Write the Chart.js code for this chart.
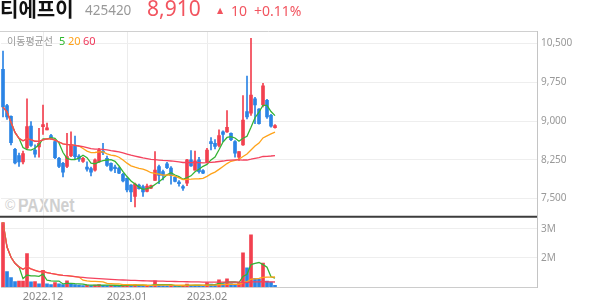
<!DOCTYPE html>
<html>
<head>
<meta charset="utf-8">
<script src="https://cdn.jsdelivr.net/npm/chart.js@4.4.0/dist/chart.umd.min.js"></script>
<style>
  html, body { margin: 0; padding: 0; background: #fff; }
  #wrap { position: relative; width: 594px; height: 304px; overflow: hidden; }
  #chart { position: absolute; left: 0; top: 0; z-index: 1; }
  .t { position: absolute; white-space: nowrap; line-height: 1; z-index: 2; }
  .num { font-family: "Noto Sans", sans-serif; }
  .kr { font-family: "Noto Sans CJK KR", sans-serif; }
  .wm { z-index: 0; color: #d0d0d0; font-family: "Liberation Sans", sans-serif; font-weight: bold; }
</style>
</head>
<body>
<div id="wrap">
  <div class="t wm" style="left:5px;top:198px;font-size:14px;font-weight:normal">©</div>
  <div class="t wm" style="left:18px;top:194px;font-size:21px;transform:scaleX(0.75);transform-origin:left top">PAXNet</div>
  <canvas id="chart" width="594" height="304"></canvas>

  <div class="t kr" style="left:0;top:-1px;font-size:20px;font-weight:bold;color:#111">티에프이</div>
  <div class="t num" style="left:85px;top:4px;font-size:13.5px;color:#999">425420</div>
  <div class="t num" style="left:147px;top:-2px;font-size:21px;color:#f2545f">8,910</div>
  <div class="t" style="left:217px;top:7px;font-size:8px;color:#f2545f;font-family:'DejaVu Sans'">▲</div>
  <div class="t num" style="left:231px;top:4px;font-size:14px;color:#f2545f">10</div>
  <div class="t num" style="left:254px;top:4px;font-size:14px;color:#f2545f">+0.11%</div>

  <div class="t kr" style="left:7px;top:35.5px;font-size:10px;color:#999">이동평균선</div>
  <div class="t num" style="left:59px;top:35px;font-size:11px;color:#2eb82e">5</div>
  <div class="t num" style="left:68px;top:35px;font-size:11px;color:#ffa21a">20</div>
  <div class="t num" style="left:83px;top:35px;font-size:11px;color:#f0385a">60</div>
</div>

<script>
const dates = [
  "2022-11-17", "2022-11-18", "2022-11-21", "2022-11-22", "2022-11-23", "2022-11-24", "2022-11-25",
  "2022-11-28", "2022-11-29", "2022-11-30",
  "2022-12-01", "2022-12-02", "2022-12-05", "2022-12-06", "2022-12-07", "2022-12-08", "2022-12-09",
  "2022-12-12", "2022-12-13", "2022-12-14", "2022-12-15", "2022-12-16", "2022-12-19", "2022-12-20",
  "2022-12-21", "2022-12-22", "2022-12-23", "2022-12-26", "2022-12-27", "2022-12-28", "2022-12-29",
  "2023-01-02", "2023-01-03", "2023-01-04", "2023-01-05", "2023-01-06", "2023-01-09", "2023-01-10",
  "2023-01-11", "2023-01-12", "2023-01-13", "2023-01-16", "2023-01-17", "2023-01-18", "2023-01-19",
  "2023-01-20", "2023-01-25", "2023-01-26", "2023-01-27", "2023-01-30", "2023-01-31",
  "2023-02-01", "2023-02-02", "2023-02-03", "2023-02-06", "2023-02-07", "2023-02-08", "2023-02-09",
  "2023-02-10", "2023-02-13", "2023-02-14", "2023-02-15", "2023-02-16", "2023-02-17", "2023-02-20",
  "2023-02-21", "2023-02-22", "2023-02-23", "2023-02-24"
];

const open = [
  10000, 9300, 9090, 8450, 8330, 8210, 8480, 8900, 8440, 8500,
  8890, 8830, 8720, 8600, 8280, 8180, 8120, 8330, 8530, 8320,
  8220, 8110, 8080, 8050, 8210, 8420, 8280, 8180, 8110, 8090,
  7970, 7890, 7760, 7540, 7760, 7730, 7640, 7700, 7850, 8120,
  8020, 8170, 8090, 7910, 7820, 7730, 7800, 8250, 8050, 8250,
  8040, 8200, 8600, 8570, 8530, 8790, 8790, 8760, 8600, 8300,
  8540, 9180, 9150, 9430, 9230, 9310, 9400, 9110, 8870
];
const high = [
  10350, 9320, 9100, 8470, 8380, 8420, 9430, 8990, 8540, 8860,
  9310, 8960, 8740, 8630, 8300, 8200, 8760, 8790, 8710, 8350,
  8300, 8210, 8110, 8270, 8470, 8570, 8320, 8190, 8150, 8110,
  7990, 7900, 7770, 7800, 7780, 7760, 7780, 7760, 8410, 8150,
  8050, 8200, 8120, 7920, 7850, 7760, 8260, 8430, 8420, 8300,
  8060, 8470, 8680, 8640, 8830, 8810, 9200, 8770, 8620, 8410,
  9490, 9870, 10600, 9460, 9240, 9730, 9420, 9130, 8930
];
const low = [
  9080, 9030, 8540, 8170, 8120, 8170, 8450, 8510, 8300, 8300,
  8740, 8830, 8640, 8270, 8100, 7920, 8100, 8310, 8270, 8220,
  8200, 8030, 7940, 8030, 8200, 8350, 8120, 8030, 8000, 7980,
  7820, 7630, 7440, 7340, 7680, 7540, 7630, 7690, 7850, 7790,
  7860, 8080, 7780, 7820, 7740, 7660, 7750, 8120, 8050, 7990,
  7980, 8190, 8440, 8460, 8500, 8600, 8780, 8620, 8300, 8240,
  8530, 9040, 9110, 8950, 8940, 9270, 9050, 8880, 8860
];
const close = [
  9270, 9080, 8580, 8190, 8210, 8370, 8890, 8530, 8360, 8570,
  8930, 8870, 8660, 8290, 8120, 8010, 8310, 8530, 8310, 8260,
  8280, 8070, 8010, 8250, 8440, 8390, 8140, 8050, 8080, 7990,
  7840, 7670, 7630, 7780, 7690, 7630, 7740, 7750, 8050, 7950,
  7950, 8100, 7950, 7830, 7790, 7700, 8250, 8130, 8230, 8020,
  7990, 8440, 8560, 8510, 8720, 8740, 8880, 8640, 8380, 8410,
  9020, 9080, 9500, 9310, 8950, 9680, 9080, 8900, 8910
];
const volume = [
  3220000, 1530000, 1320000, 1190000, 1200000, 1200000, 2150000, 1180000, 1190000, 1110000,
  1570000, 1110000, 1080000, 1150000, 1110000, 1080000, 1210000, 1090000, 1080000, 1070000,
  1050000, 1070000, 1050000, 1070000, 1080000, 1060000, 1050000, 1060000, 1050000, 1040000,
  1050000, 1070000, 1060000, 1080000, 1050000, 1040000, 1050000, 1040000, 1210000, 1070000,
  1050000, 1040000, 1050000, 1040000, 1030000, 1060000, 1100000, 1060000, 1050000, 1040000,
  1030000, 1150000, 1100000, 1090000, 1250000, 1120000, 1280000, 1120000, 1100000, 1130000,
  2180000, 1660000, 2800000, 1300000, 1270000, 1820000, 1200000, 1170000, 1060000
];
const maPeriods = [60, 20, 5];
const priceTicks = [7500, 8250, 9000, 9750, 10500];
const volumeTicks = [2000000, 3000000];

const slotCount = 134;
const RED = "#f2404f";
const BLUE = "#2b84e5";
const maColors = { 5: "#35b335", 20: "#ffa31a", 60: "#f4435e" };

function movingAverage(values, n) {
  return values.map((_, i) => {
    const part = values.slice(Math.max(0, i - n + 1), i + 1);
    return part.reduce((a, b) => a + b, 0) / part.length;
  });
}

const labels = dates.concat(Array(slotCount - dates.length).fill(""));
const monthLabels = dates.map((d, i) =>
  i > 0 && d.slice(0, 7) !== dates[i - 1].slice(0, 7) ? d.slice(0, 7).replace("-", ".") : ""
);

const candleColor = (ctx) => (close[ctx.dataIndex] >= open[ctx.dataIndex] ? RED : BLUE);
const volumeColor = (ctx) => {
  const i = ctx.dataIndex;
  return i === 0 || volume[i] >= volume[i - 1] ? RED : BLUE;
};

const maLine = (values, n, axis) => ({
  type: "line",
  data: movingAverage(values, n),
  yAxisID: axis,
  borderColor: maColors[n],
  borderWidth: 1.3,
  pointRadius: 0,
  tension: 0,
  order: 0,
});

// panel frame: thin top line over the price pane, dark bar between the panes
const panelLines = {
  id: "panelLines",
  afterDraw(chart) {
    const { ctx, chartArea: a, scales } = chart;
    ctx.save();
    ctx.strokeStyle = "#d0d0d0";
    ctx.lineWidth = 1;
    ctx.beginPath();
    ctx.moveTo(0, a.top + 0.5);
    ctx.lineTo(a.right, a.top + 0.5);
    ctx.stroke();
    ctx.strokeStyle = "#3c3c3c";
    ctx.lineWidth = 2;
    ctx.beginPath();
    ctx.moveTo(0, scales.yv.top);
    ctx.lineTo(a.right, scales.yv.top);
    ctx.stroke();
    ctx.restore();
  },
};

Chart.defaults.font.family = "'Noto Sans', sans-serif";

new Chart(document.getElementById("chart").getContext("2d"), {
  type: "bar",
  data: {
    labels: labels,
    datasets: [
      ...maPeriods.map((n) => maLine(close, n, "y")),
      ...maPeriods.map((n) => maLine(volume, n, "yv")),
      {
        label: "wick",
        data: low.map((l, i) => [l, high[i]]),
        yAxisID: "y",
        barThickness: 1,
        grouped: false,
        backgroundColor: candleColor,
        order: 2,
      },
      {
        label: "body",
        data: open.map((o, i) => [o, close[i]]),
        yAxisID: "y",
        barThickness: 3,
        grouped: false,
        backgroundColor: candleColor,
        order: 1,
      },
      {
        label: "volume",
        data: volume,
        yAxisID: "yv",
        barThickness: 3,
        grouped: false,
        backgroundColor: volumeColor,
        order: 1,
      },
    ],
  },
  options: {
    responsive: false,
    animation: false,
    layout: { padding: { left: 1, top: 31, right: 0, bottom: 0 } },
    plugins: { legend: { display: false }, tooltip: { enabled: false } },
    scales: {
      x: {
        offset: true,
        grid: {
          offset: false,
          drawTicks: false,
          color: (ctx) => (monthLabels[ctx.index] ? "#ececec" : "rgba(0,0,0,0)"),
        },
        border: { color: "#cccccc" },
        ticks: {
          autoSkip: false,
          maxRotation: 0,
          padding: 3,
          color: "#888",
          font: { size: 11 },
          callback: (v, i) => monthLabels[i] || "",
        },
        afterFit: (scale) => { scale.height = 17; },
      },
      y: {
        position: "right",
        stack: "panes",
        stackWeight: 185.7,
        min: 7150,
        max: 10740,
        afterBuildTicks: (scale) => { scale.ticks = priceTicks.map((v) => ({ value: v })); },
        grid: { color: "#eeeeee", drawTicks: false },
        border: { color: "#c4c4c4" },
        ticks: {
          padding: 4,
          color: "#999",
          font: { size: 10 },
          callback: (v) => v.toLocaleString("en-US"),
        },
        afterFit: (scale) => { scale.width = 57; },
      },
      yv: {
        position: "right",
        stack: "panes",
        stackWeight: 70.3,
        min: 1000000,
        max: 3420000,
        afterBuildTicks: (scale) => { scale.ticks = volumeTicks.map((v) => ({ value: v })); },
        grid: { color: "#eeeeee", drawTicks: false },
        border: { color: "#c4c4c4" },
        ticks: {
          padding: 4,
          color: "#999",
          font: { size: 10 },
          callback: (v) => v / 1000000 + "M",
        },
        afterFit: (scale) => { scale.width = 57; },
      },
    },
  },
  plugins: [panelLines],
});
</script>
</body>
</html>
